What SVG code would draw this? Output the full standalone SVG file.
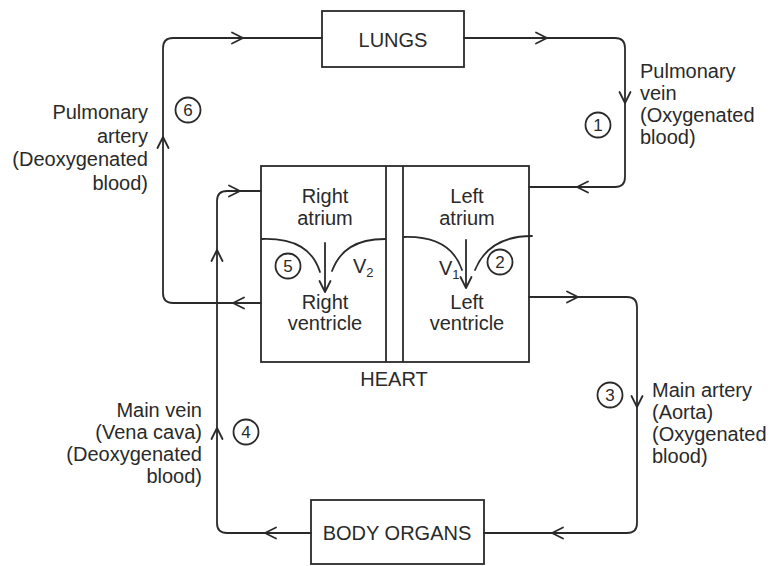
<svg xmlns="http://www.w3.org/2000/svg" xmlns:xlink="http://www.w3.org/1999/xlink" width="771" height="566" viewBox="0 0 771 566">
<style>
.box{fill:none;stroke:#2a2a2a;stroke-width:1.8}
.ln{fill:none;stroke:#2a2a2a;stroke-width:1.8;stroke-linejoin:round;stroke-linecap:round}
.t{font-family:"Liberation Sans",Arial,sans-serif;font-size:20px;fill:#2a2a2a}
.c{text-anchor:middle}
.r{text-anchor:end}
.num{font-family:"Liberation Sans",Arial,sans-serif;font-size:17px;fill:#2a2a2a;text-anchor:middle}
.sub{font-size:13px}
</style>
<defs>
<path id="chev" d="M-11,-5.5 L0,0 L-11,5.5" fill="none" stroke="#2a2a2a" stroke-width="1.8" stroke-linecap="round" stroke-linejoin="round"/>
</defs>
<rect width="771" height="566" fill="#ffffff"/>

<g id="connectors">
  <!-- pulmonary artery: heart -> lungs -->
  <path class="ln" d="M261,303 H173 Q163,303 163,293 V48 Q163,38 173,38 H322"/>
  <!-- pulmonary vein: lungs -> heart -->
  <path class="ln" d="M464,38 H615 Q625,38 625,48 V177 Q625,187 615,187 H529"/>
  <!-- aorta: heart -> body -->
  <path class="ln" d="M529,297 H627 Q637,297 637,307 V523 Q637,533 627,533 H484"/>
  <!-- vena cava: body -> heart -->
  <path class="ln" d="M311,533 H227 Q217,533 217,523 V201 Q217,191 227,191 H261"/>
  <!-- arrowheads -->
  <use xlink:href="#chev" transform="translate(243,38)"/>
  <use xlink:href="#chev" transform="translate(547,38)"/>
  <use xlink:href="#chev" transform="translate(625,103) rotate(90)"/>
  <use xlink:href="#chev" transform="translate(577,187) rotate(180)"/>
  <use xlink:href="#chev" transform="translate(578,297)"/>
  <use xlink:href="#chev" transform="translate(637,407) rotate(90)"/>
  <use xlink:href="#chev" transform="translate(552,533) rotate(180)"/>
  <use xlink:href="#chev" transform="translate(265,533) rotate(180)"/>
  <use xlink:href="#chev" transform="translate(217,428) rotate(-90)"/>
  <use xlink:href="#chev" transform="translate(217,250) rotate(-90)"/>
  <use xlink:href="#chev" transform="translate(240,191)"/>
  <use xlink:href="#chev" transform="translate(233,303) rotate(180)"/>
  <use xlink:href="#chev" transform="translate(163,137) rotate(-90)"/>
</g>

<g id="lungs">
  <rect class="box" x="322" y="11" width="142" height="56"/>
  <text class="t c" x="393" y="47">LUNGS</text>
</g>

<g id="heart">
  <rect class="box" x="261" y="166" width="268" height="196"/>
  <line class="box" x1="386" y1="166" x2="386" y2="362"/>
  <line class="box" x1="403" y1="166" x2="403" y2="362"/>
  <text class="t c" x="394" y="386">HEART</text>
</g>

<g id="right-atrium">
  <text class="t c" x="325" y="203">Right</text>
  <text class="t c" x="325" y="225">atrium</text>
</g>
<g id="right-ventricle">
  <text class="t c" x="325" y="309">Right</text>
  <text class="t c" x="325" y="330">ventricle</text>
</g>
<g id="left-atrium">
  <text class="t c" x="467" y="203">Left</text>
  <text class="t c" x="467" y="225">atrium</text>
</g>
<g id="left-ventricle">
  <text class="t c" x="467" y="309">Left</text>
  <text class="t c" x="467" y="330">ventricle</text>
</g>

<g id="valve-v2">
  <path class="ln" d="M262,239 C296,238 313,250 320,272"/>
  <path class="ln" d="M332,271 C340,250 356,239 385,239"/>
  <line class="ln" x1="325" y1="243" x2="325" y2="291"/>
  <use xlink:href="#chev" transform="translate(325,292) rotate(90)"/>
  <text class="t" x="353" y="273">V<tspan class="sub" dy="4">2</tspan></text>
</g>
<g id="valve-v1">
  <path class="ln" d="M404,237 C437,236 455,249 462,270"/>
  <path class="ln" d="M475,270 C484,248 503,236 532,236"/>
  <line class="ln" x1="466" y1="240" x2="466" y2="287"/>
  <use xlink:href="#chev" transform="translate(466,288) rotate(90)"/>
  <text class="t" x="439" y="275">V<tspan class="sub" dy="4">1</tspan></text>
</g>

<g id="body-organs">
  <rect class="box" x="311" y="500" width="173" height="64"/>
  <text class="t c" x="397" y="540">BODY ORGANS</text>
</g>

<g id="label-pulmonary-artery">
  <text class="t r" x="148" y="119">Pulmonary</text>
  <text class="t r" x="148" y="142.5">artery</text>
  <text class="t r" x="148" y="166">(Deoxygenated</text>
  <text class="t r" x="148" y="189.5">blood)</text>
  <circle class="box" cx="188" cy="110" r="12.5"/>
  <text class="num" x="188" y="116">6</text>
</g>
<g id="label-pulmonary-vein">
  <text class="t" x="640" y="78">Pulmonary</text>
  <text class="t" x="640" y="100">vein</text>
  <text class="t" x="640" y="122">(Oxygenated</text>
  <text class="t" x="640" y="144">blood)</text>
  <circle class="box" cx="598" cy="125" r="12.5"/>
  <text class="num" x="598" y="131">1</text>
</g>
<g id="label-main-artery">
  <text class="t" x="652" y="397">Main artery</text>
  <text class="t" x="652" y="419">(Aorta)</text>
  <text class="t" x="652" y="441">(Oxygenated</text>
  <text class="t" x="652" y="463">blood)</text>
  <circle class="box" cx="610" cy="395" r="12.5"/>
  <text class="num" x="610" y="401">3</text>
</g>
<g id="label-main-vein">
  <text class="t r" x="202" y="417">Main vein</text>
  <text class="t r" x="202" y="439">(Vena cava)</text>
  <text class="t r" x="202" y="461">(Deoxygenated</text>
  <text class="t r" x="202" y="483">blood)</text>
  <circle class="box" cx="246" cy="432" r="12.5"/>
  <text class="num" x="246" y="438">4</text>
</g>
<g id="step-5">
  <circle class="box" cx="288" cy="266" r="12.5"/>
  <text class="num" x="288" y="272">5</text>
</g>
<g id="step-2">
  <circle class="box" cx="500" cy="262" r="12.5"/>
  <text class="num" x="500" y="268">2</text>
</g>
</svg>
